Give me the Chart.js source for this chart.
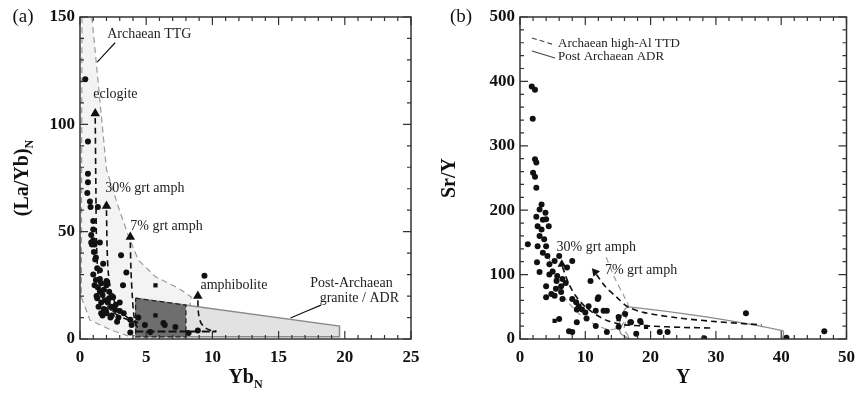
<!DOCTYPE html>
<html lang="en">
<head>
<meta charset="UTF-8">
<title>(La/Yb)N vs YbN and Sr/Y vs Y</title>
<script src="https://cdn.jsdelivr.net/npm/chart.js"></script>
<style>
  body { margin: 0; background: #fff; }
  #wrap { position: relative; width: 863px; height: 394px; }
  #chartA { position: absolute; left: 0; top: 0; }
  #chartB { position: absolute; left: 431px; top: 0; }
</style>
</head>
<body>
<div id="wrap">
  <canvas id="chartA" width="431" height="394"></canvas>
  <canvas id="chartB" width="432" height="394"></canvas>
</div>
<script>
// ---- panel (a): (La/Yb)N vs YbN ----
const aSampleYb   = [0.4, 0.6, 0.6, 0.6, 0.55, 0.75, 0.8, 1.35, 1.0, 0.85, 1.0, 1.1, 0.85, 1.05, 1.2, 1.5, 1.15, 0.9, 1.0, 1.5, 1.75, 1.2, 1.6, 1.35, 1.5, 1.7, 1.9, 1.6, 2.1, 2.35, 1.95, 2.65, 1.6, 2.3, 2.9, 3.0, 2.5, 3.1, 3.5, 3.25, 3.8, 3.9, 3.8, 4.4, 4.9, 6.3, 6.4, 7.2, 5.3, 8.2, 8.9, 9.4, 1.3, 2.2, 2.6, 1.4, 2.0, 1.8, 2.4, 3.3, 1.0, 2.8, 1.25, 2.0, 1.3, 1.8, 2.2, 1.5, 2.7, 2.0, 1.1, 3.0, 2.4, 1.7];
const aSampleLaYb = [121, 92, 77, 73, 68, 64, 61.5, 61.5, 51, 48.5, 46, 44, 45, 40.5, 38, 45, 37, 44, 30, 32, 35, 27.5, 26, 24, 22, 20.5, 18, 17, 17, 15, 13.5, 13.5, 12, 10, 10, 17, 19.5, 39, 31, 25, 9, 6.5, 3, 10, 6.5, 7.5, 6.5, 5.6, 3.3, 2.8, 4, 29.5, 33, 22, 15, 15, 12, 23, 11, 12, 55, 8, 20, 27, 19, 14, 19, 28, 16, 25, 25, 13, 20, 11];
const aSquareYb   = [5.7, 5.7];
const aSquareLaYb = [25, 11];
const aArrowYb    = [1.15, 2.0, 3.8, 8.9];
const aArrowLaYb  = [105, 62, 47.5, 20];

const eclogiteYb   = [1.15, 1.2, 1.25, 1.4, 1.8, 2.6, 3.6, 4.3];
const eclogiteLaYb = [103, 70, 45, 28, 18, 12, 9, 7.5];
const amph30Yb     = [2.0, 2.05, 2.15, 2.4, 2.9, 3.6, 4.4];
const amph30LaYb   = [60, 42, 30, 21, 14, 10, 7.5];
const amph7Yb      = [3.8, 3.85, 3.95, 4.05, 4.2, 4.5];
const amph7LaYb    = [45, 32, 20, 12, 7, 4];
const amphiboliteYb   = [8.9, 8.95, 9.1, 9.4, 9.8, 10.3];
const amphiboliteLaYb = [18, 12, 8, 5.5, 4.2, 3.6];
const residueYb    = [4.2, 10.3];
const residueLaYb  = [3.5, 3.5];

const ttgYb   = [0.15, 0.9, 2.0, 2.9, 3.6, 4.4, 5.7, 7.4, 8.4, 8.0, 3.6, 2.35, 0.75, 0.1, 0.15];
const ttgLaYb = [150, 150, 79, 61.5, 49, 36.8, 29, 23.8, 19.6, 2, 1.5, 4.2, 8.8, 19.5, 150];
const boxYb   = [4.2, 8.0, 8.0, 4.2, 4.2];
const boxLaYb = [19, 15.8, 1, 1, 19];
const postYb   = [4.2, 19.6, 19.6, 4.2, 4.2];
const postLaYb = [19, 6, 1, 1, 19];
const ttgLeaderYb   = [1.3, 2.65];
const ttgLeaderLaYb = [129, 138];
const postLeaderYb   = [15.9, 18.2];
const postLeaderLaYb = [9.8, 15.8];

// ---- panel (b): Sr/Y vs Y ----
const bSampleY   = [1.8, 2.3, 1.95, 2.3, 2.5, 2.0, 2.3, 2.5, 3.3, 3.0, 2.5, 3.9, 4.0, 2.7, 3.3, 4.4, 3.0, 3.7, 1.2, 2.7, 4.0, 3.5, 4.2, 2.6, 4.5, 5.3, 6.0, 8.0, 3.0, 5.0, 5.7, 6.5, 5.6, 6.3, 7.2, 7.0, 4.0, 4.8, 4.0, 5.3, 6.3, 6.5, 8.0, 8.6, 9.0, 9.5, 8.7, 10.0, 10.5, 10.8, 11.9, 12.8, 13.3, 11.6, 10.2, 8.7, 6.0, 7.5, 8.0, 11.6, 13.3, 15.1, 16.1, 12.0, 15.1, 16.9, 18.4, 17.8, 21.4, 22.6, 34.6, 40.8, 46.6, 28.2, 17.0, 3.5, 4.5, 5.5];
const bSampleSrY = [392, 387, 342, 279, 274, 258, 252, 235, 209, 201, 190, 196, 186, 175, 170, 175, 160, 155, 147, 144, 144, 134, 129, 119, 116, 121, 129, 121, 104, 105, 98, 93, 90, 82, 111, 87, 82, 70, 65, 67, 73, 62, 62, 57, 51, 46, 46, 41, 51, 90, 62, 44, 44, 44, 32, 26, 31, 12, 11, 20, 11, 34, 39, 65, 19, 26, 28, 8, 11, 11, 40, 2, 12, 1, 26, 185, 100, 78];
const bSquareY   = [5.3, 18.6, 15.1, 19.3];
const bSquareSrY = [28, 25, 31, 19];
const bArrowY    = [6.4, 11.5];
const bArrowSrY  = [116, 104];

const b30Y   = [6.5, 7.5, 8.6, 10, 11.6, 13.5, 16, 20, 25, 29.7];
const b30SrY = [112, 85, 66, 50, 38, 28, 22, 20, 18, 17];
const b7Y    = [11.7, 13.1, 14.8, 16.5, 19, 24, 30, 37];
const b7SrY  = [100, 81, 65, 50, 41, 33, 27, 22];
const ttdLowY    = [4.5, 5.3, 7, 10, 13.5, 15.5, 16.6];
const ttdLowSrY  = [125, 93, 62, 31, 15, 20, 45];
const ttdHighY   = [13.2, 14.5, 16, 16.6, 16.2, 16, 16.9];
const ttdHighSrY = [127, 95, 65, 51, 30, 15, 0];
const adrY   = [16.9, 15.5, 15.2, 15.6, 16.6, 40.2, 40.2];
const adrSrY = [0, 8, 22, 38, 50, 13, 0];

const SERIF = '"Liberation Serif", "DejaVu Serif", serif';

function pts(xs, ys) {
  return xs.map((x, i) => ({ x: x, y: ys[i] }));
}

function markers(xs, ys, style, radius, order, rotation) {
  return {
    data: pts(xs, ys), showLine: false, pointStyle: style, pointRadius: radius,
    rotation: rotation || 0, backgroundColor: '#111', borderColor: '#111', borderWidth: 0, order: order
  };
}

function path(xs, ys, color, width, dash, order) {
  return {
    data: pts(xs, ys), showLine: true, pointRadius: 0, borderColor: color,
    borderWidth: width, borderDash: dash, fill: false, tension: 0.3, order: order
  };
}

function field(xs, ys, fillColor, lineColor, width, dash, order) {
  return {
    data: pts(xs, ys), showLine: true, pointRadius: 0, borderColor: lineColor,
    borderWidth: width, borderDash: dash, backgroundColor: fillColor, fill: 'shape', tension: 0, order: order
  };
}

function drawSubText(ctx, main, sub, cx, cy, size) {
  ctx.font = 'bold ' + size + 'px ' + SERIF;
  const w1 = ctx.measureText(main).width;
  ctx.font = 'bold ' + Math.round(size * 0.6) + 'px ' + SERIF;
  const w2 = ctx.measureText(sub).width;
  const start = cx - (w1 + w2) / 2;
  ctx.textAlign = 'left';
  ctx.textBaseline = 'alphabetic';
  ctx.font = 'bold ' + size + 'px ' + SERIF;
  ctx.fillText(main, start, cy + size * 0.35);
  ctx.font = 'bold ' + Math.round(size * 0.6) + 'px ' + SERIF;
  ctx.fillText(sub, start + w1, cy + size * 0.6);
}

// frame, inward ticks, notes and axis titles
const panelDecor = {
  id: 'panelDecor',
  afterDraw(chart, args, o) {
    const ctx = chart.ctx, a = chart.chartArea;
    const xs = chart.scales.x, ys = chart.scales.y;
    ctx.save();
    ctx.strokeStyle = '#333';
    ctx.lineWidth = 1.5;
    ctx.setLineDash([]);
    ctx.strokeRect(a.left, a.top, a.right - a.left, a.bottom - a.top);

    ctx.lineWidth = 1.2;
    ctx.beginPath();
    for (let v = xs.min; v <= xs.max + 1e-6; v += o.xMinor) {
      const p = xs.getPixelForValue(v);
      const major = Math.abs(v / o.xMajor - Math.round(v / o.xMajor)) < 1e-6;
      const len = major ? 8 : 4;
      ctx.moveTo(p, a.bottom); ctx.lineTo(p, a.bottom - len);
      ctx.moveTo(p, a.top); ctx.lineTo(p, a.top + len);
    }
    for (let v = ys.min; v <= ys.max + 1e-6; v += o.yMinor) {
      const p = ys.getPixelForValue(v);
      const major = Math.abs(v / o.yMajor - Math.round(v / o.yMajor)) < 1e-6;
      const len = major ? 8 : 4;
      ctx.moveTo(a.left, p); ctx.lineTo(a.left + len, p);
      ctx.moveTo(a.right, p); ctx.lineTo(a.right - len, p);
    }
    ctx.stroke();

    ctx.fillStyle = '#222';
    ctx.textBaseline = 'middle';
    o.notes.forEach(n => {
      ctx.font = (n.size || 14) + 'px ' + SERIF;
      ctx.textAlign = n.align || 'left';
      ctx.fillText(n.text, xs.getPixelForValue(n.x), ys.getPixelForValue(n.y));
    });

    if (o.legend) {
      o.legend.forEach((l, i) => {
        const y0 = a.top + 21 + i * 13;
        ctx.strokeStyle = '#444';
        ctx.lineWidth = 1.1;
        ctx.setLineDash(l.dash);
        ctx.beginPath();
        ctx.moveTo(a.left + 12, y0);
        ctx.lineTo(a.left + 35, y0 + 7);
        ctx.stroke();
        ctx.setLineDash([]);
        ctx.font = '13px ' + SERIF;
        ctx.textAlign = 'left';
        ctx.textBaseline = 'middle';
        ctx.fillText(l.text, a.left + 38, y0 + 6);
      });
    }

    ctx.fillStyle = '#111';
    ctx.font = '19px ' + SERIF;
    ctx.textAlign = 'center';
    ctx.textBaseline = 'middle';
    ctx.fillText(o.panel, o.panelX, 17);

    drawSubText(ctx, o.xTitle[0], o.xTitle[1], (a.left + a.right) / 2, 376, 20);
    ctx.save();
    ctx.translate(o.yTitleX, (a.top + a.bottom) / 2);
    ctx.rotate(-Math.PI / 2);
    drawSubText(ctx, o.yTitle[0], o.yTitle[1], 0, 0, 20);
    ctx.restore();
    ctx.restore();
  }
};

function makeOptions(xMax, xStep, yMax, yStep, leftW, rightPad, decor) {
  const tickFont = { family: SERIF, size: 17, weight: 'bold' };
  return {
    responsive: false,
    animation: false,
    layout: { padding: { top: 17, right: rightPad, left: 0, bottom: 0 } },
    scales: {
      x: {
        type: 'linear', min: 0, max: xMax,
        grid: { display: false, drawTicks: false },
        border: { display: false },
        ticks: { stepSize: xStep, font: tickFont, color: '#111', padding: 8, maxRotation: 0 },
        afterFit: s => { s.height = 55; }
      },
      y: {
        type: 'linear', min: 0, max: yMax,
        grid: { display: false, drawTicks: false },
        border: { display: false },
        ticks: { stepSize: yStep, font: tickFont, color: '#111', padding: 5 },
        afterFit: s => { s.width = leftW; }
      }
    },
    plugins: {
      legend: { display: false },
      tooltip: { enabled: false },
      panelDecor: decor
    }
  };
}

new Chart(document.getElementById('chartA'), {
  type: 'scatter',
  plugins: [panelDecor],
  data: {
    datasets: [
      markers(aArrowYb, aArrowLaYb, 'triangle', 5.5, 0),
      markers(aSampleYb, aSampleLaYb, 'circle', 3, 1),
      markers(aSquareYb, aSquareLaYb, 'rect', 3, 1),
      path(eclogiteYb, eclogiteLaYb, '#111', 1.6, [6, 4], 2),
      path(amph30Yb, amph30LaYb, '#111', 1.6, [6, 4], 2),
      path(amph7Yb, amph7LaYb, '#111', 1.6, [6, 4], 2),
      path(amphiboliteYb, amphiboliteLaYb, '#111', 1.6, [6, 4], 2),
      path(residueYb, residueLaYb, '#111', 2, [8, 3], 2),
      path(ttgLeaderYb, ttgLeaderLaYb, '#111', 1.2, [], 2),
      path(postLeaderYb, postLeaderLaYb, '#111', 1.2, [], 2),
      field(boxYb, boxLaYb, '#6e6e6e', '#222', 1.3, [5, 3], 3),
      field(postYb, postLaYb, '#e2e2e2', '#8a8a8a', 1.5, [], 4),
      field(ttgYb, ttgLaYb, '#f3f3f3', '#9a9a9a', 1.2, [6, 4], 5)
    ]
  },
  options: makeOptions(25, 5, 150, 50, 80, 20, {
    xMinor: 1, xMajor: 5, yMinor: 10, yMajor: 50,
    panel: '(a)', panelX: 23, yTitleX: 21,
    xTitle: ['Yb', 'N'], yTitle: ['(La/Yb)', 'N'],
    notes: [
      { text: 'Archaean TTG', x: 2.05, y: 142 },
      { text: 'eclogite', x: 1.0, y: 114 },
      { text: '30% grt amph', x: 1.9, y: 70 },
      { text: '7% grt amph', x: 3.8, y: 52.6 },
      { text: 'amphibolite', x: 9.1, y: 25 },
      { text: 'Post-Archaean', x: 20.5, y: 26, align: 'center' },
      { text: 'granite / ADR', x: 21.1, y: 19, align: 'center' }
    ]
  })
});

new Chart(document.getElementById('chartB'), {
  type: 'scatter',
  plugins: [panelDecor],
  data: {
    datasets: [
      markers([bArrowY[0]], [bArrowSrY[0]], 'triangle', 5, 0, 0),
      markers([bArrowY[1]], [bArrowSrY[1]], 'triangle', 5, 0, -40),
      markers(bSampleY, bSampleSrY, 'circle', 3, 1),
      markers(bSquareY, bSquareSrY, 'rect', 3, 1),
      path(b30Y, b30SrY, '#111', 1.6, [6, 4], 2),
      path(b7Y, b7SrY, '#111', 1.6, [6, 4], 2),
      path(ttdLowY, ttdLowSrY, '#9a9a9a', 1.2, [6, 4], 3),
      path(ttdHighY, ttdHighSrY, '#9a9a9a', 1.2, [6, 4], 3),
      path(adrY, adrSrY, '#8a8a8a', 1.3, [], 3)
    ]
  },
  options: makeOptions(50, 10, 500, 100, 89, 11, {
    xMinor: 2, xMajor: 10, yMinor: 20, yMajor: 100,
    panel: '(b)', panelX: 30, yTitleX: 17,
    xTitle: ['Y', ''], yTitle: ['Sr/Y', ''],
    legend: [
      { text: 'Archaean high-Al TTD', dash: [5, 3] },
      { text: 'Post Archaean ADR', dash: [] }
    ],
    notes: [
      { text: '30% grt amph', x: 5.6, y: 142 },
      { text: '7% grt amph', x: 13, y: 107 }
    ]
  })
});
</script>
</body>
</html>
